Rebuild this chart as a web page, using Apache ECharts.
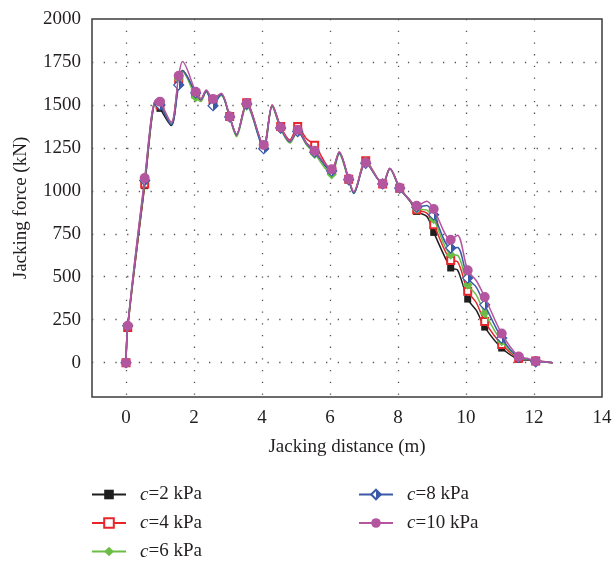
<!DOCTYPE html>
<html>
<head>
<meta charset="utf-8">
<script src="https://cdn.jsdelivr.net/npm/echarts@6/dist/echarts.min.js"></script>
<style>
  html, body { margin: 0; padding: 0; background: #fff; }
  #chart { width: 616px; height: 562px; }
</style>
</head>
<body>
<div id="chart"></div>
<script>
// jacking distance (m) of every point on the curves
const distance = [0, 0.05, 0.55, 0.88, 1.0, 1.33, 1.55, 1.66, 2.05, 2.2, 2.36, 2.56, 2.8, 3.05, 3.25, 3.55,
  4.05, 4.3, 4.55, 4.82, 5.05, 5.3, 5.55, 6.05, 6.27, 6.55, 6.7, 7.05, 7.55, 7.76, 8.05, 8.35, 8.55, 8.85,
  9.05, 9.55, 9.75, 10.05, 10.3, 10.55, 11.05, 11.55, 11.8, 12.05, 12.3, 12.55];
// distances where a marker is drawn
const markDist = [0, 0.05, 0.55, 1.0, 1.55, 2.05, 2.56, 3.05, 3.55, 4.05, 4.55, 5.05, 5.55, 6.05, 6.55,
  7.05, 7.55, 8.05, 8.55, 9.05, 9.55, 10.05, 10.55, 11.05, 11.55, 12.05];

// jacking force (kN)
const force2 = [0, 205, 1030, 1520, 1480, 1380, 1640, 1695, 1565, 1530, 1580, 1525, 1560, 1430, 1325, 1505,
  1262, 1495, 1370, 1295, 1360, 1280, 1235, 1110, 1222, 1065, 988, 1165, 1040, 1130, 1015, 940, 880, 850,
  758, 551, 540, 370, 305, 207, 85, 20, 15, 10, 5, 0];
const force4 = [0, 205, 1040, 1525, 1500, 1390, 1650, 1700, 1565, 1532, 1582, 1530, 1565, 1432, 1325, 1512,
  1262, 1500, 1375, 1295, 1375, 1305, 1265, 1120, 1225, 1068, 990, 1175, 1040, 1130, 1015, 945, 890, 870,
  802, 595, 588, 415, 350, 240, 105, 25, 18, 10, 5, 0];
const force6 = [0, 210, 1055, 1528, 1505, 1390, 1650, 1695, 1545, 1520, 1575, 1525, 1555, 1428, 1315, 1495,
  1255, 1490, 1360, 1278, 1345, 1270, 1215, 1095, 1215, 1060, 985, 1170, 1040, 1128, 1015, 945, 895, 888,
  835, 628, 625, 453, 395, 289, 124, 28, 20, 10, 5, 0];
const force8 = [0, 215, 1060, 1525, 1500, 1385, 1616, 1700, 1570, 1530, 1580, 1495, 1560, 1430, 1325, 1505,
  1245, 1495, 1365, 1285, 1345, 1275, 1225, 1115, 1220, 1065, 985, 1160, 1040, 1128, 1015, 945, 905, 915,
  860, 667, 670, 492, 440, 337, 143, 30, 22, 5, 5, 0];
const force10 = [0, 215, 1074, 1530, 1519, 1400, 1669, 1752, 1577, 1535, 1587, 1535, 1568, 1432, 1330, 1510,
  1267, 1500, 1370, 1290, 1355, 1280, 1233, 1126, 1228, 1070, 995, 1165, 1041, 1132, 1018, 945, 913, 940,
  894, 715, 742, 537, 478, 382, 169, 35, 25, 10, 6, 0];

const cohesion = ["2", "4", "6", "8", "10"];
const xTicks = [0, 2, 4, 6, 8, 10, 12, 14];
const yTicks = [0, 250, 500, 750, 1000, 1250, 1500, 1750, 2000];

const FONT = "'Liberation Serif', 'DejaVu Serif', serif";
const halfBlue = new echarts.graphic.LinearGradient(0, 0, 1, 0, [
  { offset: 0, color: "#ffffff" },
  { offset: 0.5, color: "#ffffff" },
  { offset: 0.5, color: "#3a5aa8" },
  { offset: 1, color: "#3a5aa8" },
]);

const styles = [
  { color: "#1e1e1e", symbol: "rect", size: 7, fill: "#1e1e1e", border: 0 },
  { color: "#e8252a", symbol: "rect", size: 7, fill: "#ffffff", border: 2 },
  { color: "#6cbd45", symbol: "diamond", size: 10, fill: "#6cbd45", border: 0 },
  { color: "#3a5aa8", symbol: "diamond", size: 10, fill: halfBlue, border: 1.2 },
  { color: "#b4569f", symbol: "circle", size: 10, fill: "#b4569f", border: 0 },
];
const forces = [force2, force4, force6, force8, force10];

const names = cohesion.map((c) => `c=${c} kPa`);

const series = forces.map((f, k) => ({
  name: names[k],
  type: "line",
  smooth: 0.3,
  symbol: styles[k].symbol,
  symbolSize: styles[k].size,
  showAllSymbol: true,
  lineStyle: { color: styles[k].color, width: 1.5 },
  itemStyle: {
    color: styles[k].fill,
    borderColor: styles[k].color,
    borderWidth: styles[k].border,
  },
  data: distance.map((d, i) =>
    markDist.includes(d) ? [d, f[i]] : { value: [d, f[i]], symbol: "none" }
  ),
  z: 2 + k,
}));

const legendText = {
  fontFamily: FONT,
  fontSize: 19,
  lineHeight: 19,
  color: "#231f20",
  rich: {
    s: { width: 9, lineHeight: 19 },
    i: { fontFamily: FONT, fontSize: 19, lineHeight: 19, fontStyle: "italic", color: "#231f20" },
    t: { fontFamily: FONT, fontSize: 19, lineHeight: 19, color: "#231f20" },
  },
};
const legendFormatter = (name) => `{s|}{i|c}{t|${name.slice(1)}}`;

const legendBase = {
  orient: "vertical",
  top: 485,
  padding: 0,
  itemWidth: 34,
  itemHeight: 12,
  itemGap: 9.5,
  height: 90,
  formatter: legendFormatter,
  textStyle: legendText,
};

const chart = echarts.init(document.getElementById("chart"), null, { renderer: "canvas" });

chart.setOption({
  animation: false,
  backgroundColor: "#ffffff",
  grid: {
    left: 92,
    right: 14,
    top: 19,
    bottom: 165,
    show: true,
    borderColor: "#3c3c3c",
    borderWidth: 1.5,
  },
  legend: [
    Object.assign({}, legendBase, { data: names.slice(0, 3), left: 91 }),
    Object.assign({}, legendBase, { data: names.slice(3), left: 358 }),
  ],
  xAxis: {
    type: "value",
    min: -1,
    max: 14,
    name: "Jacking distance (m)",
    nameLocation: "middle",
    nameGap: 41,
    nameTextStyle: { fontFamily: FONT, fontSize: 19, color: "#231f20" },
    axisLine: { show: false },
    axisTick: { show: false, customValues: xTicks.slice(0, -1) },
    axisLabel: {
      customValues: xTicks,
      margin: 12,
      fontFamily: FONT,
      fontSize: 19,
      color: "#231f20",
      formatter: (v) => String(v),
    },
    splitLine: {
      show: true,
      lineStyle: { color: "#555555", width: 1.3, type: [1.3, 10.4] },
    },
  },
  yAxis: {
    type: "value",
    min: -200,
    max: 2000,
    name: "Jacking force (kN)",
    nameLocation: "middle",
    nameGap: 61,
    nameTextStyle: { fontFamily: FONT, fontSize: 19, color: "#231f20" },
    axisLine: { show: false },
    axisTick: { show: false, customValues: yTicks.slice(0, -1) },
    axisLabel: {
      customValues: yTicks,
      margin: 11,
      fontFamily: FONT,
      fontSize: 19,
      color: "#231f20",
      formatter: (v) => String(v),
    },
    splitLine: {
      show: true,
      lineStyle: { color: "#555555", width: 1.3, type: [1.3, 10.4] },
    },
  },
  series: series,
});
</script>
</body>
</html>
